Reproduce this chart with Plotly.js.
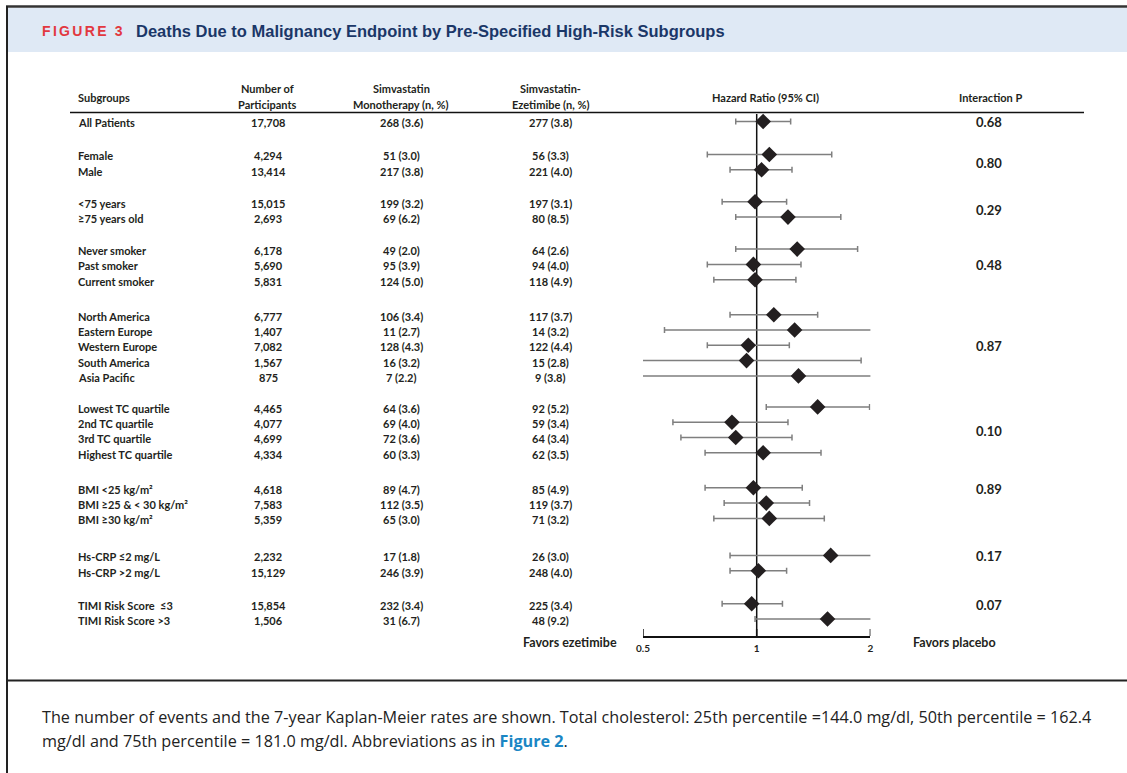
<!DOCTYPE html>
<html>
<head>
<meta charset="utf-8">
<script src="https://cdn.plot.ly/plotly-3.0.1.min.js"></script>
<style>html,body{margin:0;padding:0;background:#fff;}#chart{width:1127px;height:773px;}</style>
</head>
<body>
<div id="chart"></div>
<script>
// ---------------- DATA ----------------
const subgroups = ["All Patients","Female","Male","<75 years","\u226575 years old","Never smoker","Past smoker","Current smoker",
  "North America","Eastern Europe","Western Europe","South America","Asia Pacific",
  "Lowest TC quartile","2nd TC quartile","3rd TC quartile","Highest TC quartile",
  "BMI <25 kg/m\u00b2","BMI \u226525 & < 30 kg/m\u00b2","BMI \u226530 kg/m\u00b2",
  "Hs-CRP \u22642 mg/L","Hs-CRP >2 mg/L","TIMI Risk Score \u00a0\u22643","TIMI Risk Score >3"];
const groupOf = [0,1,1,2,2,3,3,3,4,4,4,4,4,5,5,5,5,6,6,6,7,7,8,8];
const participants = [17708,4294,13414,15015,2693,6178,5690,5831,6777,1407,7082,1567,875,4465,4077,4699,4334,4618,7583,5359,2232,15129,15854,1506];
const monoN   = [268,51,217,199,69,49,95,124,106,11,128,16,7,64,69,72,60,89,112,65,17,246,232,31];
const monoPct = [3.6,3.0,3.8,3.2,6.2,2.0,3.9,5.0,3.4,2.7,4.3,3.2,2.2,3.6,4.0,3.6,3.3,4.7,3.5,3.0,1.8,3.9,3.4,6.7];
const ezeN    = [277,56,221,197,80,64,94,118,117,14,122,15,9,92,59,64,62,85,119,71,26,248,225,48];
const ezePct  = [3.8,3.3,4.0,3.1,8.5,2.6,4.0,4.9,3.7,3.2,4.4,2.8,3.8,5.2,3.4,3.4,3.5,4.9,3.7,3.2,3.0,4.0,3.4,9.2];
const hr   = [1.04,1.08,1.03,0.99,1.21,1.28,0.98,0.99,1.11,1.26,0.95,0.94,1.29,1.45,0.86,0.88,1.04,0.98,1.06,1.08,1.57,1.01,0.97,1.54];
const ciLo = [0.88,0.74,0.85,0.81,0.88,0.88,0.74,0.77,0.85,0.57,0.74,0.45,0.45,1.06,0.60,0.63,0.73,0.73,0.82,0.77,0.85,0.85,0.81,0.99];
const ciHi = [1.23,1.58,1.24,1.20,1.67,1.85,1.31,1.27,1.45,2.30,1.22,1.89,2.30,1.99,1.21,1.24,1.48,1.32,1.38,1.51,2.30,1.20,1.17,2.30];
const pValues = ["0.68","0.80","0.29","0.48","0.87","0.10","0.89","0.17","0.07"];
const tickVals = [0.5, 1, 2];
const tickLabels = ["0.5","1","2"];

// ---------------- LAYOUT HELPERS ----------------
const W = 1127, H = 773;
const px = x => x / W;
const py = y => 1 - y / H;
const pAnchor = ["mid","mid","mid","mid","mid","mid","first","first","first"];
// vertical spacing (pixels): within a group, and the gap before each new group
const rowStepPx = 15.3;
const groupGapPx = [33,32,32,35,31,35,37,33];
const ypos = [];
{ let cur = 0; groupOf.forEach((g,i)=>{ if(i>0) cur += (g!==groupOf[i-1]) ? groupGapPx[g-1] : rowStepPx; ypos.push(cur); }); }
const row0Px = 121.5, plotTop = 113, plotBot = 636;
const yRange = [plotBot-row0Px, plotTop-row0Px];

const ink = "#231f20";
const tFont = {family:"Lato, 'Liberation Sans', sans-serif", size:11, color:ink};
const ann = [];
function T(text, x, y, opts){ ann.push(Object.assign({text:text, x:x, y:y, xref:"paper", yref:"paper", showarrow:false, font:tFont, xanchor:"center", yanchor:"middle"}, opts||{})); }

// Title
T("<b>F\u2006I\u2006G\u2006U\u2006R\u2006E\u2002\u200a3</b>", px(40), py(31), {xanchor:"left", font:{family:"'Liberation Sans', sans-serif", size:14, color:"#e2383f"}});
T("<b>Deaths Due to Malignancy Endpoint by Pre-Specified High-Risk Subgroups</b>", px(134), py(31), {xanchor:"left", font:{family:"'Liberation Sans Narrow', 'Liberation Sans', sans-serif", size:16.5, color:"#1b3768"}});

// Column headers
T("<b>Subgroups</b>", px(76), py(97), {xanchor:"left"});
T("<b>Number of</b>", px(267), py(89)); T("<b>Participants</b>", px(267), py(104));
T("<b>Simvastatin</b>", px(401), py(89)); T("<b>Monotherapy (n, %)</b>", px(401), py(104));
T("<b>Simvastatin-</b>", px(550), py(89)); T("<b>Ezetimibe (n, %)</b>", px(550), py(104));
T("<b>Hazard Ratio (95% CI)</b>", px(765), py(97));
T("<b>Interaction P</b>", px(990), py(97));

// Table rows
subgroups.forEach((s,i)=>{
  const base = {yref:"y", y:ypos[i], yshift:-1.5};
  T("<b>"+s+"</b>", px(76), 0, Object.assign({xanchor:"left"}, base));
  T("<b>"+participants[i].toLocaleString("en-US")+"</b>", px(268), 0, base);
  T("<b>"+monoN[i]+" ("+monoPct[i].toFixed(1)+")</b>", px(401), 0, base);
  T("<b>"+ezeN[i]+" ("+ezePct[i].toFixed(1)+")</b>", px(550), 0, base);
});
// Interaction P values
pValues.forEach((p,g)=>{
  const ys = ypos.filter((v,i)=>groupOf[i]===g);
  const y = pAnchor[g]==="first" ? ys[0] : (ys[0]+ys[ys.length-1])/2;
  T("<b>"+p+"</b>", px(989), 0, {yref:"y", y:y, yshift:-1, font:Object.assign({}, tFont, {size:13})});
});
T("<b>Favors ezetimibe</b>", px(619), py(642), {xanchor:"right", font:Object.assign({}, tFont, {size:12.5})});
T("<b>Favors placebo</b>", px(911), py(642), {xanchor:"left", font:Object.assign({}, tFont, {size:12.5})});

// Caption
const capFont = {family:"'Open Sans', 'Noto Sans', sans-serif", size:16.2, color:"#222"};
T("The number of events and the 7-year Kaplan-Meier rates are shown. Total cholesterol: 25th percentile =144.0 mg/dl, 50th percentile = 162.4", px(40), py(717), {xanchor:"left", font:capFont});
T("mg/dl and 75th percentile = 181.0 mg/dl. Abbreviations as in <b><span style=\"color:#1a86c4\">Figure 2</span></b>.", px(40), py(741), {xanchor:"left", font:capFont});

const shapes = [
  {type:"rect", xref:"paper", yref:"paper", x0:px(8), x1:1, y0:py(52), y1:py(8), fillcolor:"#dfe9f5", line:{width:0}, layer:"below"},
  {type:"line", xref:"paper", yref:"paper", x0:px(6), x1:1, y0:py(6.5), y1:py(6.5), line:{color:"#333", width:2.5}},
  {type:"line", xref:"paper", yref:"paper", x0:px(7), x1:px(7), y0:py(6), y1:0, line:{color:"#222", width:2}},
  {type:"line", xref:"paper", yref:"paper", x0:px(7), x1:1, y0:py(680.5), y1:py(680.5), line:{color:"#222", width:2}},
  {type:"line", xref:"paper", yref:"paper", x0:px(70), x1:px(1084), y0:py(112.5), y1:py(112.5), line:{color:"#111", width:1.5}},
  {type:"line", xref:"x", yref:"paper", x0:1, x1:1, y0:py(plotBot), y1:py(114), line:{color:"#111", width:1.5}, layer:"below"}
];
// upward tick marks at each tick value (Plotly drops inside ticks at the range ends)
tickVals.forEach(v=>shapes.push({type:"line", xref:"x", yref:"paper", x0:v, x1:v, y0:py(plotBot), y1:py(plotBot-7), line:{color:"#111", width:1.5}}));

const trace = {
  type:"scatter", mode:"markers", x:hr, y:ypos,
  marker:{symbol:"diamond", size:12, color:ink},
  error_x:{type:"data", symmetric:false,
    array:hr.map((v,i)=>ciHi[i]-v), arrayminus:hr.map((v,i)=>v-ciLo[i]),
    color:"#7f7f7f", thickness:1.5, width:3},
  hoverinfo:"skip", showlegend:false
};

const layout = {
  width:W, height:H, margin:{l:0,r:0,t:0,b:0},
  paper_bgcolor:"#fff", plot_bgcolor:"rgba(0,0,0,0)",
  xaxis:{type:"log", domain:[px(643), px(870.4)], range:[Math.log10(0.5), Math.log10(2)],
    tickmode:"array", tickvals:tickVals, ticktext:tickLabels.map(t=>"<b>"+t+"</b>"), ticks:"", 
    ticklabelstandoff:2,
    showline:true, linecolor:"#111", linewidth:1.5, showgrid:false, zeroline:false,
    tickfont:{family:"Lato, 'Liberation Sans', sans-serif", size:10, color:ink}, fixedrange:true},
  yaxis:{domain:[py(plotBot), py(plotTop)], range:yRange, visible:false, showgrid:false, zeroline:false, fixedrange:true},
  shapes:shapes, annotations:ann, showlegend:false
};
Plotly.newPlot("chart", [trace], layout, {staticPlot:true, displayModeBar:false});
</script>
</body>
</html>
